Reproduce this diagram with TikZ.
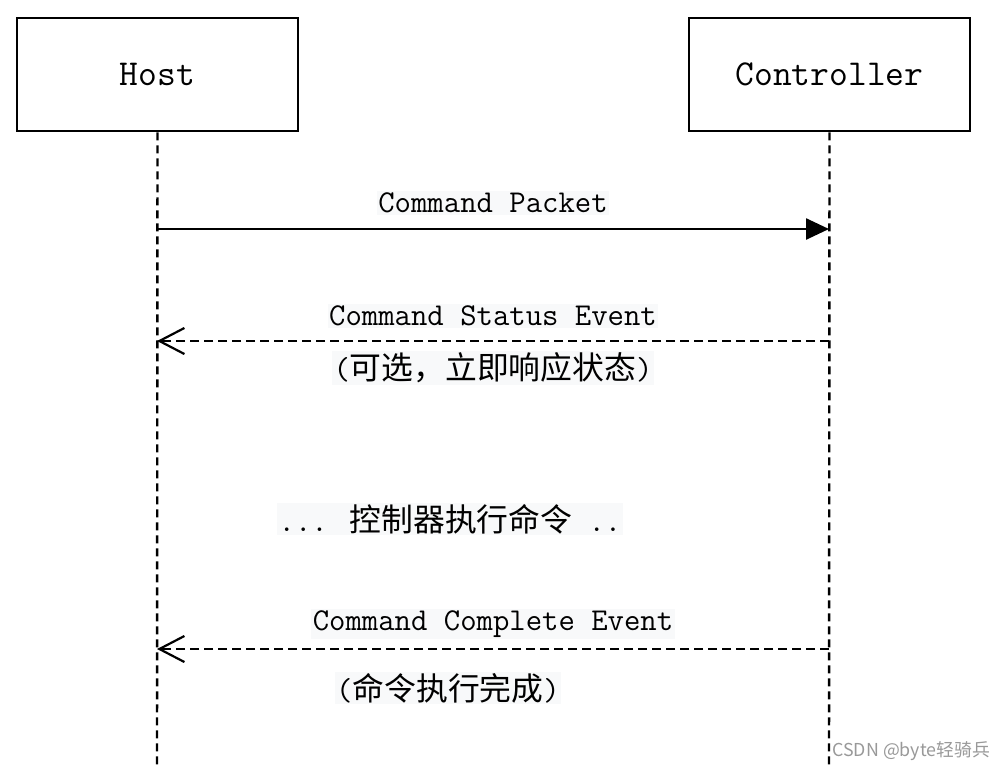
\documentclass[tikz,border=0pt]{standalone}
\usepackage{fontspec}
\usetikzlibrary{arrows.meta}
\newfontfamily\cjk{Noto Sans CJK SC}
\definecolor{lblbg}{RGB}{248,249,250}
\begin{document}
\begin{tikzpicture}[x=1pt,y=-1pt,
  actor/.style={draw,line width=2.6pt,minimum width=281pt,minimum height=113pt,inner sep=0pt,
    font=\ttfamily\fontsize{36.5}{40}\selectfont},
  lifeline/.style={line width=2.4pt,dash pattern=on 8pt off 5pt},
  msgsolid/.style={line width=2.6pt,-{Triangle[length=23pt,width=21pt]}},
  msgdash/.style={line width=2.4pt,dash pattern=on 9pt off 5pt,
    -{Straight Barb[length=25pt,width=26pt,line width=2.2pt]}},
  lbl/.style={fill=lblbg,inner sep=1.5pt,font=\ttfamily\fontsize{31.8}{34}\selectfont},
  wm/.style={inner sep=0pt,text=black!40,font=\cjk\fontsize{17.8}{20}\selectfont}]
\fill[white] (0,0) rectangle (995,769);
\useasboundingbox (0,0) rectangle (995,769);

\node[actor] (host) at (157.5,74.5) {Host};
\node[actor] (ctrl) at (829.5,74.5) {Controller};

\coordinate (hostend) at (157,769);
\coordinate (ctrlend) at (829,769);
\draw[lifeline] (host.south) -- (hostend);
\draw[lifeline] (ctrl.south) -- (ctrlend);

\coordinate (h1) at (157,229);
\coordinate (c1) at (829,229);
\coordinate (h2) at (157,341);
\coordinate (c2) at (829,341);
\coordinate (h3) at (157,649);
\coordinate (c3) at (829,649);

\draw[msgsolid] (h1) -- (c1);
\draw[msgdash] (c2) -- (h2);
\draw[msgdash] (c3) -- (h3);

\node[lbl] (l1) at (493,203) {Command Packet};
\node[lbl] (l2) at (493,316) {Command Status Event};
\node[lbl] (l2b) at (493,368) {({\cjk 可选，立即响应状态})};
\node[lbl] (l3) at (450,519) {... {\cjk 控制器执行命令} ..};
\node[lbl] (l4) at (493,624) {Command Complete Event};
\node[lbl] (l4b) at (448,688) {({\cjk 命令执行完成})};

\node[wm,anchor=east] (wmk) at (990,751) {CSDN @byte轻骑兵};
\end{tikzpicture}
\end{document}
